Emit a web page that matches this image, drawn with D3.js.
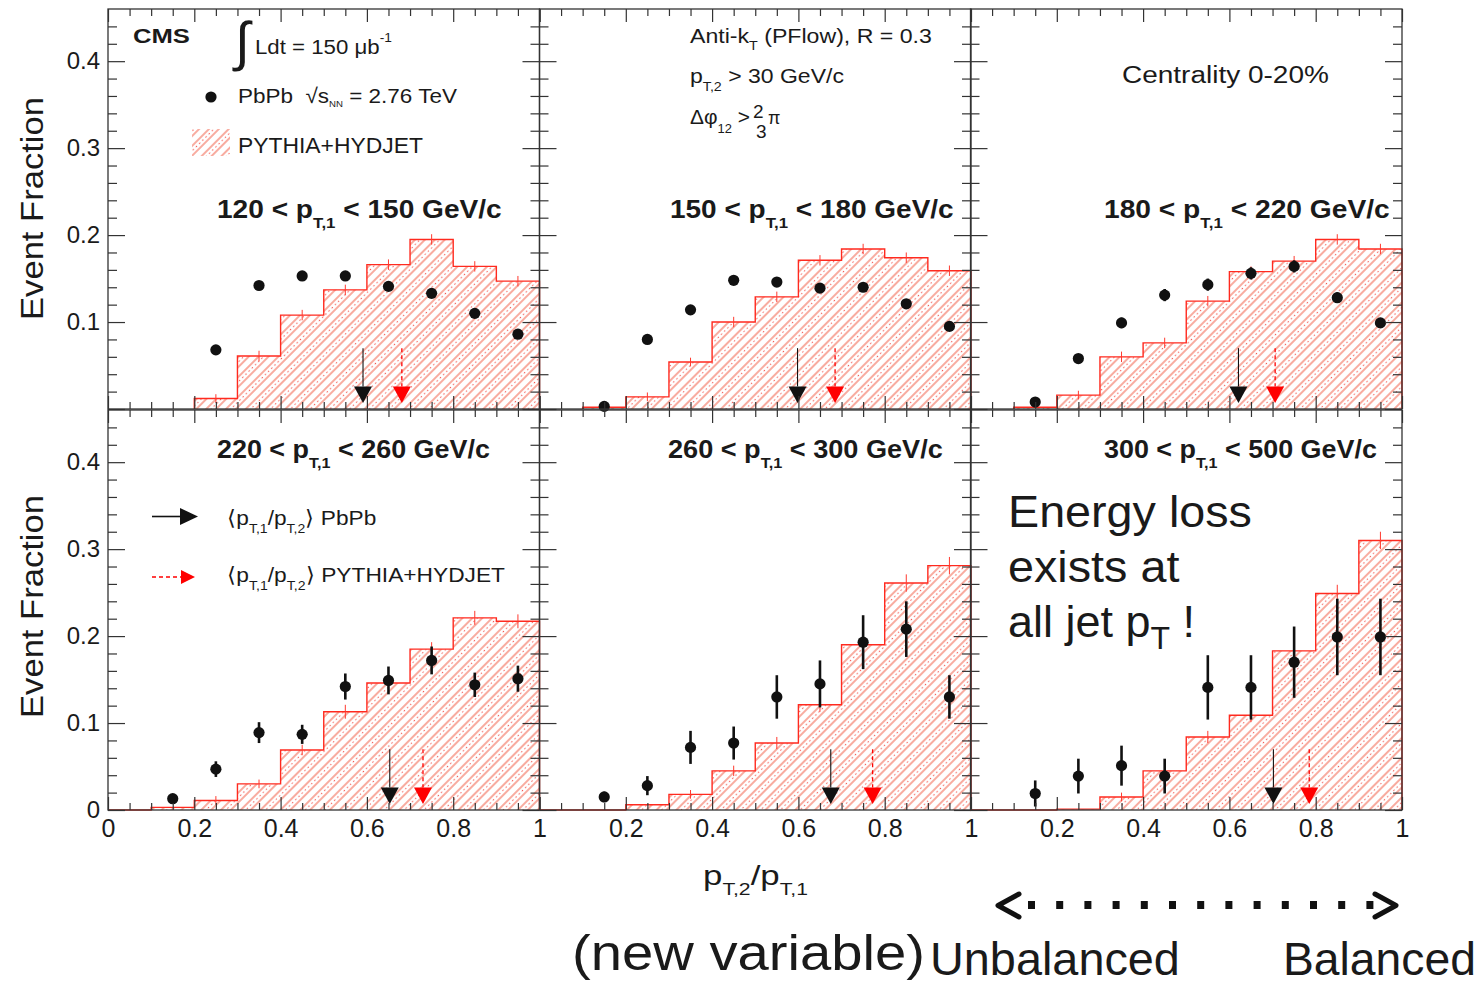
<!DOCTYPE html>
<html><head><meta charset="utf-8">
<script src="https://cdn.jsdelivr.net/npm/d3@7"></script>
<style>
body{margin:0;background:#fff}
svg{display:block}
text{font-family:"Liberation Sans",Arial,Helvetica,sans-serif;fill:#1a1a1a}
</style>
</head><body>
<svg id="c" width="1481" height="984"></svg>
<script>
// ---------------- DATA ----------------
const binEdges   = [0,0.1,0.2,0.3,0.4,0.5,0.6,0.7,0.8,0.9,1.0];
const binCenters = [0.05,0.15,0.25,0.35,0.45,0.55,0.65,0.75,0.85,0.95];

const ptRanges = [["120","150"],["150","180"],["180","220"],["220","260"],["260","300"],["300","500"]];

// PYTHIA+HYDJET histograms (event fraction per bin)
const hist1 = [null, null, 0.012, 0.061, 0.108, 0.137, 0.166, 0.195, 0.164, 0.147];
const hist2 = [null, 0.002, 0.014, 0.054, 0.100, 0.129, 0.171, 0.184, 0.174, 0.159];
const hist3 = [null, 0.002, 0.016, 0.060, 0.076, 0.124, 0.158, 0.170, 0.195, 0.184];
const hist4 = [0, 0.003, 0.011, 0.030, 0.069, 0.113, 0.146, 0.185, 0.221, 0.217];
const hist5 = [0, 0, 0.006, 0.018, 0.045, 0.077, 0.121, 0.190, 0.261, 0.281];
const hist6 = [0, 0, 0.001, 0.015, 0.045, 0.084, 0.109, 0.183, 0.249, 0.310];

const histErr1 = [null, null, 0.005, 0.006, 0.006, 0.006, 0.006, 0.006, 0.006, 0.006];
const histErr2 = [null, null, 0.005, 0.005, 0.006, 0.006, 0.006, 0.006, 0.006, 0.006];
const histErr3 = [null, null, 0.005, 0.006, 0.006, 0.006, 0.006, 0.006, 0.006, 0.006];
const histErr4 = [null, null, 0.005, 0.005, 0.006, 0.008, 0.008, 0.008, 0.008, 0.008];
const histErr5 = [null, null, null, 0.005, 0.006, 0.007, 0.008, 0.009, 0.010, 0.010];
const histErr6 = [null, null, null, 0.005, 0.006, 0.007, 0.008, 0.009, 0.010, 0.010];

// PbPb data points
const pts1 = [null, null, 0.068, 0.142, 0.153, 0.153, 0.141, 0.133, 0.110, 0.086];
const pts2 = [null, 0.003, 0.080, 0.114, 0.148, 0.146, 0.139, 0.140, 0.121, 0.095];
const pts3 = [null, 0.008, 0.058, 0.099, 0.131, 0.143, 0.156, 0.164, 0.128, 0.099];
const pts4 = [null, 0.013, 0.047, 0.089, 0.087, 0.142, 0.149, 0.172, 0.144, 0.151];
const pts5 = [null, 0.015, 0.028, 0.072, 0.077, 0.130, 0.145, 0.193, 0.208, 0.130];
const pts6 = [null, 0.019, 0.039, 0.051, 0.039, 0.141, 0.141, 0.170, 0.199, 0.199];

const err1 = [null, null, 0.004, 0.005, 0.005, 0.005, 0.005, 0.005, 0.005, 0.004];
const err2 = [null, 0.002, 0.004, 0.005, 0.005, 0.005, 0.005, 0.005, 0.005, 0.004];
const err3 = [null, 0.003, 0.005, 0.006, 0.007, 0.007, 0.007, 0.007, 0.006, 0.005];
const err4 = [null, 0.003, 0.009, 0.012, 0.011, 0.015, 0.016, 0.016, 0.014, 0.015];
const err5 = [null, 0.006, 0.011, 0.019, 0.019, 0.025, 0.027, 0.031, 0.032, 0.025];
const err6 = [null, 0.015, 0.020, 0.023, 0.020, 0.037, 0.037, 0.041, 0.044, 0.044];

// <pT2/pT1> mean markers
const meanPbPb = [0.591, 0.598, 0.621, 0.653, 0.675, 0.702];
const meanMC   = [0.681, 0.685, 0.706, 0.730, 0.772, 0.785];
const arrowTop = 0.07, arrowBase = 0.026, arrowTip = 0.007;

// axis ticks
const yMajor = [0, 0.1, 0.2, 0.3, 0.4];
const yMinor = [0.02,0.04,0.06,0.08,0.12,0.14,0.16,0.18,0.22,0.24,0.26,0.28,0.32,0.34,0.36,0.38,0.42,0.44];
const xMajor = [0, 0.2, 0.4, 0.6, 0.8, 1];
const xMinor = [0.05,0.1,0.15,0.25,0.3,0.35,0.45,0.5,0.55,0.65,0.7,0.75,0.85,0.9,0.95];
const yLabelsTop = [0.1, 0.2, 0.3, 0.4];
const yLabelsBottom = [0, 0.1, 0.2, 0.3, 0.4];
const xLabelsFirst = [0, 0.2, 0.4, 0.6, 0.8, 1];
const xLabelsOther = [0.2, 0.4, 0.6, 0.8, 1];

const hists = [hist1,hist2,hist3,hist4,hist5,hist6];
const histErrs = [histErr1,histErr2,histErr3,histErr4,histErr5,histErr6];
const ptsAll = [pts1,pts2,pts3,pts4,pts5,pts6];
const errsAll = [err1,err2,err3,err4,err5,err6];

// ---------------- LAYOUT ----------------
const colX = [108, 539.5, 970.5], panelW = 431.5;
const rowTop = [9, 410], rowBot = [409, 810];
const yMax = 0.46;

const svg = d3.select("#c");
const defs = svg.append("defs");
const pat = defs.append("pattern").attr("id","hatch").attr("patternUnits","userSpaceOnUse")
  .attr("width",14).attr("height",9).attr("patternTransform","rotate(45)");
pat.append("line").attr("x1",1).attr("y1",-1).attr("x2",1).attr("y2",10)
  .attr("stroke","#f47a66").attr("stroke-width",1.25);
pat.append("line").attr("x1",8).attr("y1",-1).attr("x2",8).attr("y2",10)
  .attr("stroke","#f47a66").attr("stroke-width",1.25);
pat.append("line").attr("x1",4.5).attr("y1",0).attr("x2",4.5).attr("y2",9)
  .attr("stroke","#f01c14").attr("stroke-width",1.1).attr("stroke-dasharray","1.2 3.3").attr("opacity",0.8);

function label(x, y, parts, o) {
  const g = svg.append("g");
  const t = g.append("text").attr("font-size", o.size).attr("text-anchor", o.anchor || "start");
  if (o.bold) t.attr("font-weight","bold");
  if (o.family) t.attr("font-family", o.family);
  let cur = 0;
  parts.forEach(p => {
    if (typeof p === "string") p = {t: p};
    const fs = p.k ? (p.fs || o.size * 0.62) : o.size;
    const off = p.k === "sub" ? (p.off != null ? p.off : o.size * 0.38)
              : p.k === "sup" ? -(p.off != null ? p.off : o.size * 0.42) : 0;
    t.append("tspan").text(p.t).attr("font-size", fs).attr("dy", off - cur);
    cur = off;
  });
  let s = 1;
  if (o.w) { const w = t.node().getBBox().width; if (w > 0) s = o.w / w; }
  g.attr("transform", `translate(${x},${y})` + (o.rot ? " rotate(-90)" : "") + ` scale(${s},1)`);
  return g;
}

const fmt = d => d === 0 ? "0" : d === 1 ? "1" : d3.format(".1f")(d);

function tickAxis(g, axisFn, scale, vals, size) {
  g.call(axisFn(scale).tickValues(vals).tickSizeInner(-size).tickSizeOuter(0).tickFormat(""));
  g.select(".domain").remove();
  g.selectAll(".tick line").attr("stroke","#333").attr("stroke-width",1.2);
}

for (let i = 0; i < 6; i++) {
  const col = i % 3, row = Math.floor(i / 3);
  const x = d3.scaleLinear().domain([0,1]).range([colX[col], colX[col] + panelW]);
  const y = d3.scaleLinear().domain([0,yMax]).range([rowBot[row], rowTop[row]]);
  const g = svg.append("g");
  const hv = hists[i];

  // histogram step outline
  const first = hv.findIndex(v => v !== null);
  const stepPts = [[binEdges[first], 0]];
  for (let k = first; k < hv.length; k++) {
    stepPts.push([binEdges[k], hv[k]], [binEdges[k+1], hv[k]]);
  }
  stepPts.push([1, 0]);
  const line = d3.line().x(d => x(d[0])).y(d => y(d[1]));
  g.append("path").attr("d", line(stepPts) + "Z").attr("fill","url(#hatch)").attr("stroke","none");
  g.append("path").attr("d", line(stepPts)).attr("fill","none").attr("stroke","#ff2a1f").attr("stroke-width",1.4);

  // histogram error bars
  histErrs[i].forEach((e, k) => {
    if (e == null || hv[k] == null) return;
    g.append("line").attr("x1", x(binCenters[k])).attr("x2", x(binCenters[k]))
      .attr("y1", y(hv[k] - e)).attr("y2", y(hv[k] + e))
      .attr("stroke","#ff3a2f").attr("stroke-width",1);
  });

  // data points
  ptsAll[i].forEach((v, k) => {
    if (v == null) return;
    const e = errsAll[i][k];
    g.append("line").attr("x1", x(binCenters[k])).attr("x2", x(binCenters[k]))
      .attr("y1", y(Math.max(0, v - e))).attr("y2", y(v + e))
      .attr("stroke","#111").attr("stroke-width",2.6);
    g.append("circle").attr("cx", x(binCenters[k])).attr("cy", y(v)).attr("r", 5.6).attr("fill","#111");
  });

  // mean arrows
  const drawArrow = (m, color, dashed) => {
    const ax = x(m);
    g.append("line").attr("x1", ax).attr("x2", ax).attr("y1", y(arrowTop)).attr("y2", y(arrowBase))
      .attr("stroke", color).attr("stroke-width", dashed ? 1.3 : 1.1)
      .attr("stroke-dasharray", dashed ? "4 3" : null);
    g.append("path").attr("d", `M${ax-9},${y(arrowBase)}L${ax+9},${y(arrowBase)}L${ax},${y(arrowTip)}Z`)
      .attr("fill", color);
  };
  drawArrow(meanPbPb[i], "#111", false);
  drawArrow(meanMC[i], "#f00", true);

  // frame and ticks
  g.append("rect").attr("x", x(0)).attr("y", y(yMax)).attr("width", x(1) - x(0)).attr("height", y(0) - y(yMax))
    .attr("fill","none").attr("stroke","#333").attr("stroke-width",1.3);
  tickAxis(g.append("g").attr("transform",`translate(${x(0)},0)`), d3.axisLeft, y, yMajor, 17);
  tickAxis(g.append("g").attr("transform",`translate(${x(0)},0)`), d3.axisLeft, y, yMinor, 9);
  tickAxis(g.append("g").attr("transform",`translate(${x(1)},0)`), d3.axisRight, y, yMajor, 17);
  tickAxis(g.append("g").attr("transform",`translate(${x(1)},0)`), d3.axisRight, y, yMinor, 9);
  tickAxis(g.append("g").attr("transform",`translate(0,${y(0)})`), d3.axisBottom, x, xMajor, 13);
  tickAxis(g.append("g").attr("transform",`translate(0,${y(0)})`), d3.axisBottom, x, xMinor, 7);
  tickAxis(g.append("g").attr("transform",`translate(0,${y(yMax)})`), d3.axisTop, x, xMajor, 13);
  tickAxis(g.append("g").attr("transform",`translate(0,${y(yMax)})`), d3.axisTop, x, xMinor, 7);

  // tick labels
  if (col === 0) {
    const ya = g.append("g").attr("transform",`translate(${x(0)},0)`)
      .call(d3.axisLeft(y).tickValues(row === 0 ? yLabelsTop : yLabelsBottom).tickSize(0).tickPadding(8).tickFormat(fmt));
    ya.select(".domain").remove();
    ya.attr("font-size", 24).attr("font-family", "Liberation Sans, Arial, sans-serif");
    ya.selectAll("text").attr("fill","#1a1a1a");
  }
  if (row === 1) {
    const xa = g.append("g").attr("transform",`translate(0,${y(0)})`)
      .call(d3.axisBottom(x).tickValues(col === 0 ? xLabelsFirst : xLabelsOther).tickSize(0).tickPadding(9).tickFormat(fmt));
    xa.select(".domain").remove();
    xa.attr("font-size", 25).attr("font-family", "Liberation Sans, Arial, sans-serif");
    xa.selectAll("text").attr("fill","#1a1a1a");
  }
}

// ---------------- TEXT ----------------
const titlePos = [[217,218,285],[670,218,284],[1104,218,286],[217,458,273],[668,458,275],[1104,458,273]];
ptRanges.forEach((r, i) => {
  const [tx, ty, tw] = titlePos[i];
  label(tx, ty, [r[0] + " < p", {t:"T,1", k:"sub", fs:15, off:10}, " < " + r[1] + " GeV/c"], {size:25, bold:true, w:tw});
});

label(133, 43, ["CMS"], {size:20, bold:true, w:57});
label(235, 60, ["\u222B"], {size:54, family:"DejaVu Sans"});
label(255, 54, ["Ldt = 150 \u03BCb", {t:"-1", k:"sup", fs:13, off:12}], {size:21, w:137});
svg.append("circle").attr("cx", 211).attr("cy", 97).attr("r", 5.6).attr("fill", "#111");
label(238, 103, ["PbPb\u00A0\u00A0\u221As", {t:"NN", k:"sub", fs:9, off:4}, " = 2.76 TeV"], {size:21, w:219});
svg.append("rect").attr("x",192).attr("y",129).attr("width",38).attr("height",27).attr("fill","url(#hatch)");
label(238, 153, ["PYTHIA+HYDJET"], {size:22, w:185});

label(690, 43, ["Anti-k", {t:"T", k:"sub", fs:13, off:7}, " (PFlow), R = 0.3"], {size:21, w:242});
label(690, 83, ["p", {t:"T,2", k:"sub", fs:13, off:8}, " > 30 GeV/c"], {size:21, w:154});
label(690, 124, ["\u0394\u03C6", {t:"12", k:"sub", fs:13, off:9}, " >"], {size:21, w:60});
label(753, 118, ["2"], {size:19});
label(756, 138, ["3"], {size:19});
label(768, 124, ["\u03C0"], {size:18});

label(1122, 83, ["Centrality 0-20%"], {size:24, w:207});

// arrow legend (bottom-left panel)
svg.append("line").attr("x1",152).attr("x2",184).attr("y1",516.5).attr("y2",516.5).attr("stroke","#111").attr("stroke-width",1.6);
svg.append("path").attr("d","M180,508L198,516.5L180,525Z").attr("fill","#111");
label(227, 525, ["\u27E8p", {t:"T,1", k:"sub", fs:13, off:8}, "/p", {t:"T,2", k:"sub", fs:13, off:8}, "\u27E9 PbPb"], {size:21, w:148});
svg.append("line").attr("x1",152).attr("x2",183).attr("y1",577).attr("y2",577).attr("stroke","#f00").attr("stroke-width",1.3).attr("stroke-dasharray","4 3");
svg.append("path").attr("d","M181,570L195,577L181,584Z").attr("fill","#f00");
label(227, 582, ["\u27E8p", {t:"T,1", k:"sub", fs:13, off:8}, "/p", {t:"T,2", k:"sub", fs:13, off:8}, "\u27E9 PYTHIA+HYDJET"], {size:21, w:277});

// big annotation
label(1008, 527, ["Energy loss"], {size:45, w:244});
label(1008, 582, ["exists at"], {size:45, w:172});
label(1008, 637, ["all jet p", {t:"T", k:"sub", fs:32, off:12}, " !"], {size:45, w:187});

// axis titles
label(43, 208.5, ["Event Fraction"], {size:32, w:223, rot:true, anchor:"middle"});
label(43, 606.5, ["Event Fraction"], {size:32, w:223, rot:true, anchor:"middle"});
label(703, 885, ["p", {t:"T,2", k:"sub", fs:17, off:10}, "/p", {t:"T,1", k:"sub", fs:17, off:10}], {size:28, w:105});

label(572, 970, ["(new variable)"], {size:50, w:353});
label(930, 975, ["Unbalanced"], {size:46, w:250});
label(1283, 975, ["Balanced"], {size:46, w:193});

// dotted double arrow
svg.append("path").attr("d","M1019,894L998,905.5L1019,917").attr("fill","none").attr("stroke","#111").attr("stroke-width",5).attr("stroke-linecap","round").attr("stroke-linejoin","round");
svg.append("path").attr("d","M1375,894L1396,905.5L1375,917").attr("fill","none").attr("stroke","#111").attr("stroke-width",5).attr("stroke-linecap","round").attr("stroke-linejoin","round");
for (let j = 0; j < 13; j++) {
  svg.append("rect").attr("x", 1028 + j * 28.2).attr("y", 901).attr("width", 7).attr("height", 8).attr("fill", "#111");
}
</script>
</body></html>
